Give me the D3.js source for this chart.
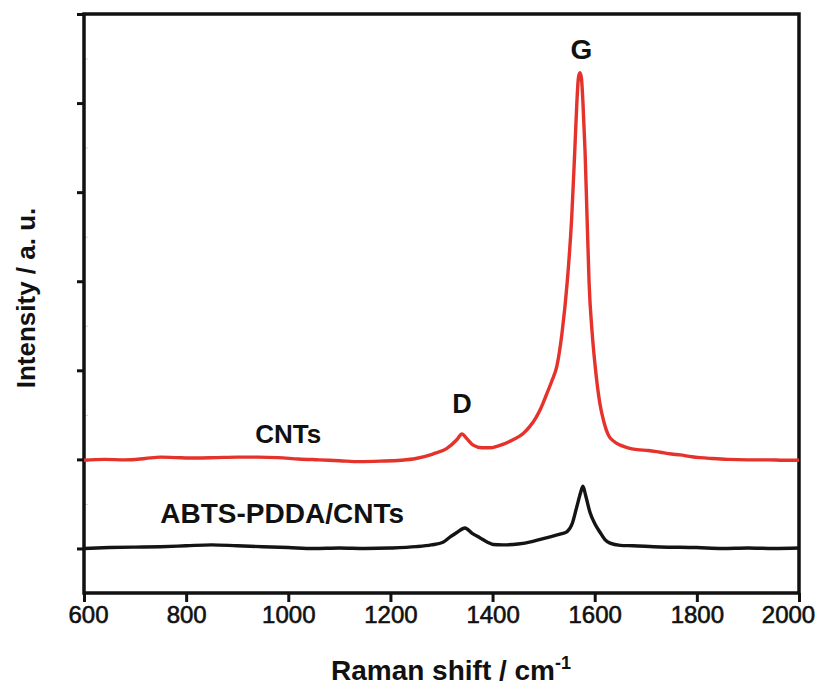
<!DOCTYPE html>
<html>
<head>
<meta charset="utf-8">
<script src="https://cdn.jsdelivr.net/npm/d3@7"></script>
<style>
  body { margin: 0; background: #fff; }
  text { font-family: "Liberation Sans", Arial, sans-serif; }
</style>
</head>
<body>
<div id="visual"></div>
<script>
// Raman spectra (intensity in tick units, offset traces)
cntsShift = [600, 640, 680, 720, 750, 780, 820, 860, 900, 940, 980, 1020, 1060, 1100, 1140, 1180, 1220, 1250, 1283, 1310,
  1330, 1340, 1350, 1362, 1379, 1395, 1410, 1440, 1460, 1473, 1485, 1495, 1505, 1516, 1526, 1536, 1546, 1555, 1561, 1565,
  1568, 1571, 1574, 1577, 1581, 1585, 1589, 1595, 1601, 1610, 1618, 1626, 1638, 1650, 1665, 1683, 1705, 1728, 1750, 1767,
  1790, 1806, 1830, 1860, 1900, 1940, 1970, 2000]
cntsIntensity = [0.99, 1.0, 0.995, 1.01, 1.025, 1.02, 1.015, 1.02, 1.025, 1.025, 1.02, 1.005, 0.995, 0.985, 0.975, 0.98, 0.99, 1.01, 1.06, 1.12,
  1.22, 1.285, 1.23, 1.16, 1.13, 1.13, 1.15, 1.22, 1.29, 1.37, 1.47, 1.58, 1.72, 1.88, 2.05, 2.42, 2.98, 3.72, 4.47, 5.0,
  5.28, 5.34, 5.28, 5.0, 4.47, 3.72, 2.98, 2.42, 2.04, 1.63, 1.42, 1.28, 1.20, 1.16, 1.13, 1.11, 1.10, 1.08, 1.06, 1.05,
  1.03, 1.02, 1.01, 1.0, 0.995, 0.995, 0.99, 0.99]

abtsShift = [600, 650, 700, 750, 800, 850, 900, 950, 1000, 1050, 1100, 1150, 1200, 1250, 1280, 1303, 1317, 1330, 1346, 1360,
  1375, 1390, 1401, 1420, 1450, 1479, 1505, 1532, 1546, 1556, 1565, 1572, 1577, 1582, 1591, 1600, 1610, 1620, 1630, 1650,
  1675, 1728, 1800, 1850, 1900, 1950, 2000]
abtsIntensity = [0.0, 0.01, 0.015, 0.02, 0.03, 0.04, 0.03, 0.02, 0.01, 0.0, 0.005, 0.0, 0.005, 0.02, 0.04, 0.07, 0.13, 0.18, 0.23, 0.17,
  0.12, 0.07, 0.045, 0.04, 0.05, 0.08, 0.12, 0.16, 0.19, 0.28, 0.47, 0.62, 0.70, 0.60, 0.40, 0.28, 0.185, 0.10, 0.06, 0.035,
  0.03, 0.017, 0.01, 0.0, 0.005, 0.0, 0.005]

xTicks = [600, 800, 1000, 1200, 1400, 1600, 1800, 2000]
yTicks = [0, 1, 2, 3, 4, 5, 6]
yMinorTicks = [0.5, 1.5, 2.5, 3.5, 4.5, 5.5]

seriesNames = ["CNTs", "ABTS-PDDA/CNTs"]
peakNames = ["D", "G"]

const width = 818, height = 689
const plotLeft = 84, plotRight = 799, plotTop = 14, plotBottom = 593

const x = d3.scaleLinear().domain([600, 2000]).range([plotLeft, plotRight])
const y = d3.scaleLinear().domain([-0.5, 6]).range([plotBottom, plotTop])

const svg = d3.select('#visual').append('svg')
    .attr("width", width)
    .attr("height", height)
    .style('background-color', '#ffffff')

// bottom axis, major ticks pointing out
const xAxis = svg.append("g")
    .attr("transform", `translate(0,${plotBottom})`)
    .call(d3.axisBottom(x).tickValues(xTicks).tickFormat(d3.format("d")).tickSize(9).tickPadding(4))
xAxis.select(".domain").remove()
xAxis.selectAll(".tick line").attr("stroke", "#111").attr("stroke-width", 3)
xAxis.selectAll(".tick text")
    .attr("font-size", 24)
    .attr("fill", "#111")
    .attr("stroke", "#111")
    .attr("stroke-width", 0.6)
    .attr("dx", d => d == 600 ? 4 : d == 2000 ? -11 : 0)

// left axis, unlabeled ticks
const yAxis = svg.append("g")
    .attr("transform", `translate(${plotLeft},0)`)
    .call(d3.axisLeft(y).tickValues(yTicks).tickFormat("").tickSize(7))
yAxis.select(".domain").remove()
yAxis.selectAll(".tick line").attr("stroke", "#111").attr("stroke-width", 3)

const yMinor = svg.append("g")
    .attr("transform", `translate(${plotLeft},0)`)
    .call(d3.axisRight(y).tickValues(yMinorTicks).tickFormat("").tickSize(4))
yMinor.select(".domain").remove()
yMinor.selectAll(".tick line").attr("stroke", "#d4d4d4").attr("stroke-width", 1)

// frame
svg.append("rect")
    .attr("x", plotLeft).attr("y", plotTop)
    .attr("width", plotRight - plotLeft).attr("height", plotBottom - plotTop)
    .attr("fill", "none")
    .attr("stroke", "#111")
    .attr("stroke-width", 3.5)

const line = d3.line()
    .x(d => x(d[0]))
    .y(d => y(d[1]))
    .curve(d3.curveMonotoneX)

svg.append("path")
    .datum(d3.zip(abtsShift, abtsIntensity))
    .attr("d", line)
    .attr("fill", "none")
    .attr("stroke", "#141414")
    .attr("stroke-width", 3.4)
    .attr("stroke-linejoin", "round")

svg.append("path")
    .datum(d3.zip(cntsShift, cntsIntensity))
    .attr("d", line)
    .attr("fill", "none")
    .attr("stroke", "#e5322b")
    .attr("stroke-width", 3.4)
    .attr("stroke-linejoin", "round")

// labels on the traces
svg.append("text")
    .attr("x", x(1000)).attr("y", y(1.18))
    .attr("text-anchor", "middle")
    .attr("font-size", 26).attr("font-weight", "bold").attr("fill", "#111")
    .text(seriesNames[0])

svg.append("text")
    .attr("x", x(990) - 1).attr("y", y(0.29))
    .attr("text-anchor", "middle")
    .attr("font-size", 28).attr("font-weight", "bold").attr("fill", "#111")
    .text(seriesNames[1])

svg.append("text")
    .attr("x", x(1340)).attr("y", y(1.52))
    .attr("text-anchor", "middle")
    .attr("font-size", 27).attr("font-weight", "bold").attr("fill", "#111")
    .text(peakNames[0])

svg.append("text")
    .attr("x", x(1574)).attr("y", y(5.5))
    .attr("text-anchor", "middle")
    .attr("font-size", 28).attr("font-weight", "bold").attr("fill", "#111")
    .text(peakNames[1])

// axis titles
const xTitle = svg.append("text")
    .attr("x", 451).attr("y", 680)
    .attr("text-anchor", "middle")
    .attr("font-size", 28).attr("font-weight", "bold").attr("fill", "#111")
xTitle.append("tspan").text("Raman shift / cm")
xTitle.append("tspan").attr("font-size", 18).attr("dy", -11).text("-1")

svg.append("text")
    .attr("transform", "translate(35,298) rotate(-90)")
    .attr("text-anchor", "middle")
    .attr("font-size", 26).attr("font-weight", "bold").attr("fill", "#111")
    .text("Intensity / a. u.")
</script>
</body>
</html>
